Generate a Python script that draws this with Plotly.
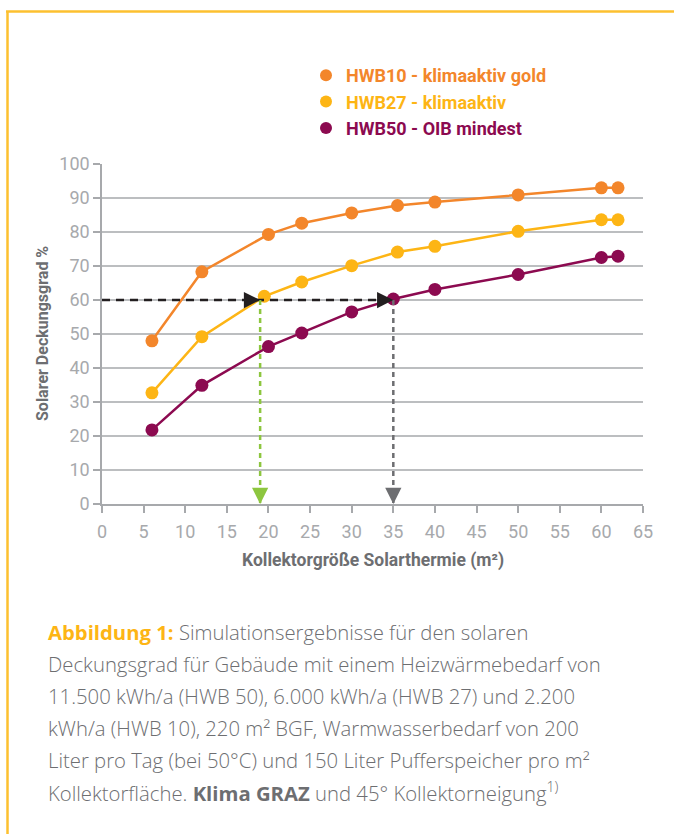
import plotly.graph_objects as go

# ---------------- data ----------------
series_names = ["HWB10 - klimaaktiv gold", "HWB27 - klimaaktiv", "HWB50 - OIB mindest"]
x_hwb10 = [6, 12, 20, 24, 30, 35.5, 40, 50, 60, 62]
y_hwb10 = [48, 68.3, 79.3, 82.6, 85.6, 87.8, 88.8, 90.9, 93, 93]
x_hwb27 = [6, 12, 19.5, 24, 30, 35.5, 40, 50, 60, 62]
y_hwb27 = [32.7, 49.2, 61.1, 65.3, 70.1, 74.1, 75.8, 80.2, 83.6, 83.6]
x_hwb50 = [6, 12, 20, 24, 30, 35, 40, 50, 60, 62]
y_hwb50 = [21.8, 34.9, 46.3, 50.3, 56.5, 60.3, 63.1, 67.5, 72.5, 72.9]

target_share = 60          # Solarer Deckungsgrad target (%)
area_hwb27 = 19            # collector area reaching target, HWB27
area_hwb50 = 35            # collector area reaching target, HWB50

x_ticks = list(range(0, 66, 5))
y_ticks = list(range(0, 101, 10))

caption_lines = [
    "<span style='color:#FDB515'><b>Abbildung 1:</b></span> Simulationsergebnisse für den solaren",
    "Deckungsgrad für Gebäude mit einem Heizwärmebedarf von",
    "11.500 kWh/a (HWB 50), 6.000 kWh/a (HWB 27) und 2.200",
    "kWh/a (HWB 10), 220 m² BGF, Warmwasserbedarf von 200",
    "Liter pro Tag (bei 50°C) und 150 Liter Pufferspeicher pro m²",
    "Kollektorfläche. <b>Klima GRAZ</b> und 45° Kollektorneigung<sup>1)</sup>",
]

# ---------------- style ----------------
W, H = 674, 834
ML, MR, MT, MB = 102, 31, 164, 330
PW, PH = W - ML - MR, H - MT - MB
colors = ["#F3862B", "#FDB515", "#8C0A50"]
grid_col = "#BCBEC0"
tick_col = "#A7A9AC"
title_col = "#6D6E71"
border_col = "#FDC02F"
FONT = "Roboto"
CAP_FONT = "Open Sans"


def px_x(px):
    return (px - ML) / PW


def px_y(py):
    return (H - MB - py) / PH


fig = go.Figure()
xs = [x_hwb10, x_hwb27, x_hwb50]
ys = [y_hwb10, y_hwb27, y_hwb50]
for name, xv, yv, c in zip(series_names, xs, ys, colors):
    fig.add_trace(go.Scatter(
        x=xv, y=yv, mode="lines+markers", name=name, showlegend=False,
        line=dict(color=c, width=2.5), marker=dict(color=c, size=13),
        cliponaxis=False,
    ))
# legend entries (dots only)
for i, (name, c) in enumerate(zip(series_names, colors)):
    fig.add_trace(go.Scatter(
        x=[None], y=[None], mode="markers", legendgroup=f"g{i}",
        name=f"<b><span style='color:{c}'>{name}</span></b>",
        marker=dict(color=c, size=12),
    ))

# dashed guide lines
dash_black = "8px,6px"
dash_small = "5px,4px"
fig.add_shape(type="line", x0=0, x1=area_hwb50, y0=target_share, y1=target_share,
              line=dict(color="#231F20", width=2.5, dash=dash_black), layer="above")
fig.add_shape(type="line", x0=area_hwb27, x1=area_hwb27, y0=target_share, y1=0,
              line=dict(color="#8DC63F", width=2.5, dash=dash_small), layer="above")
fig.add_shape(type="line", x0=area_hwb50, x1=area_hwb50, y0=target_share, y1=0,
              line=dict(color="#6D6E71", width=2.5, dash=dash_small), layer="above")

# arrow heads
for xt, yt, ax, ay, c in [
    (area_hwb27, target_share, -14, 0, "#231F20"),
    (area_hwb50, target_share, -14, 0, "#231F20"),
    (area_hwb27, 0, 0, -14, "#8DC63F"),
    (area_hwb50, 0, 0, -14, "#6D6E71"),
]:
    fig.add_annotation(x=xt, y=yt, ax=ax, ay=ay, text="", showarrow=True,
                       arrowhead=2, arrowsize=1.3, arrowwidth=2.5, arrowcolor=c)

# axis titles
fig.add_annotation(xref="paper", yref="paper", x=px_x(42), y=0.5, xanchor="center", yanchor="middle",
                   text="<b>Solarer Deckungsgrad %</b>", textangle=-90, showarrow=False,
                   font=dict(family=FONT, size=16, color=title_col))
fig.add_annotation(xref="paper", yref="paper", x=0.5, y=px_y(560), xanchor="center", yanchor="middle",
                   text="<b>Kollektorgröße Solarthermie (m²)</b>", showarrow=False,
                   font=dict(family=FONT, size=17.5, color=title_col))

# caption
cap_y0, cap_dy = 632, 32
for i, line in enumerate(caption_lines):
    fig.add_annotation(xref="paper", yref="paper", x=px_x(46), y=px_y(cap_y0 + i * cap_dy),
                       xanchor="left", yanchor="middle", text=line, showarrow=False,
                       font=dict(family=CAP_FONT, size=20.3, color=title_col, weight=300))

# frame lines
fig.add_shape(type="line", xref="paper", yref="paper", x0=px_x(6), x1=px_x(W), y0=px_y(11.5), y1=px_y(11.5),
              line=dict(color=border_col, width=2.5))
fig.add_shape(type="line", xref="paper", yref="paper", x0=px_x(7.5), x1=px_x(7.5), y0=px_y(11.5), y1=px_y(H),
              line=dict(color=border_col, width=2.5))

fig.update_layout(
    width=W, height=H,
    margin=dict(l=ML, r=MR, t=MT, b=MB),
    paper_bgcolor="white", plot_bgcolor="white",
    font=dict(family=FONT),
    legend=dict(x=px_x(306), y=px_y(57), xanchor="left", yanchor="top",
                font=dict(family=FONT, size=18), tracegroupgap=0,
                bgcolor="rgba(0,0,0,0)", itemclick=False),
    xaxis=dict(range=[0, 65], tickvals=x_ticks, showgrid=False, zeroline=False,
               showline=True, linecolor=tick_col, linewidth=1.5,
               ticks="outside", ticklen=7, tickcolor=tick_col, tickwidth=1.5,
               ticklabelstandoff=4,
               tickfont=dict(family=FONT, size=18, color=tick_col)),
    yaxis=dict(range=[0, 100], tickvals=y_ticks, showgrid=True, gridcolor=grid_col, gridwidth=1.5,
               zeroline=False, showline=True, linecolor=tick_col, linewidth=1.5,
               ticks="outside", ticklen=7, tickcolor=tick_col, tickwidth=1.5,
               tickfont=dict(family=FONT, size=18, color=tick_col)),
)

fig.write_html("out.html", config={"displayModeBar": False},
               post_script="document.body.style.margin='0';")
